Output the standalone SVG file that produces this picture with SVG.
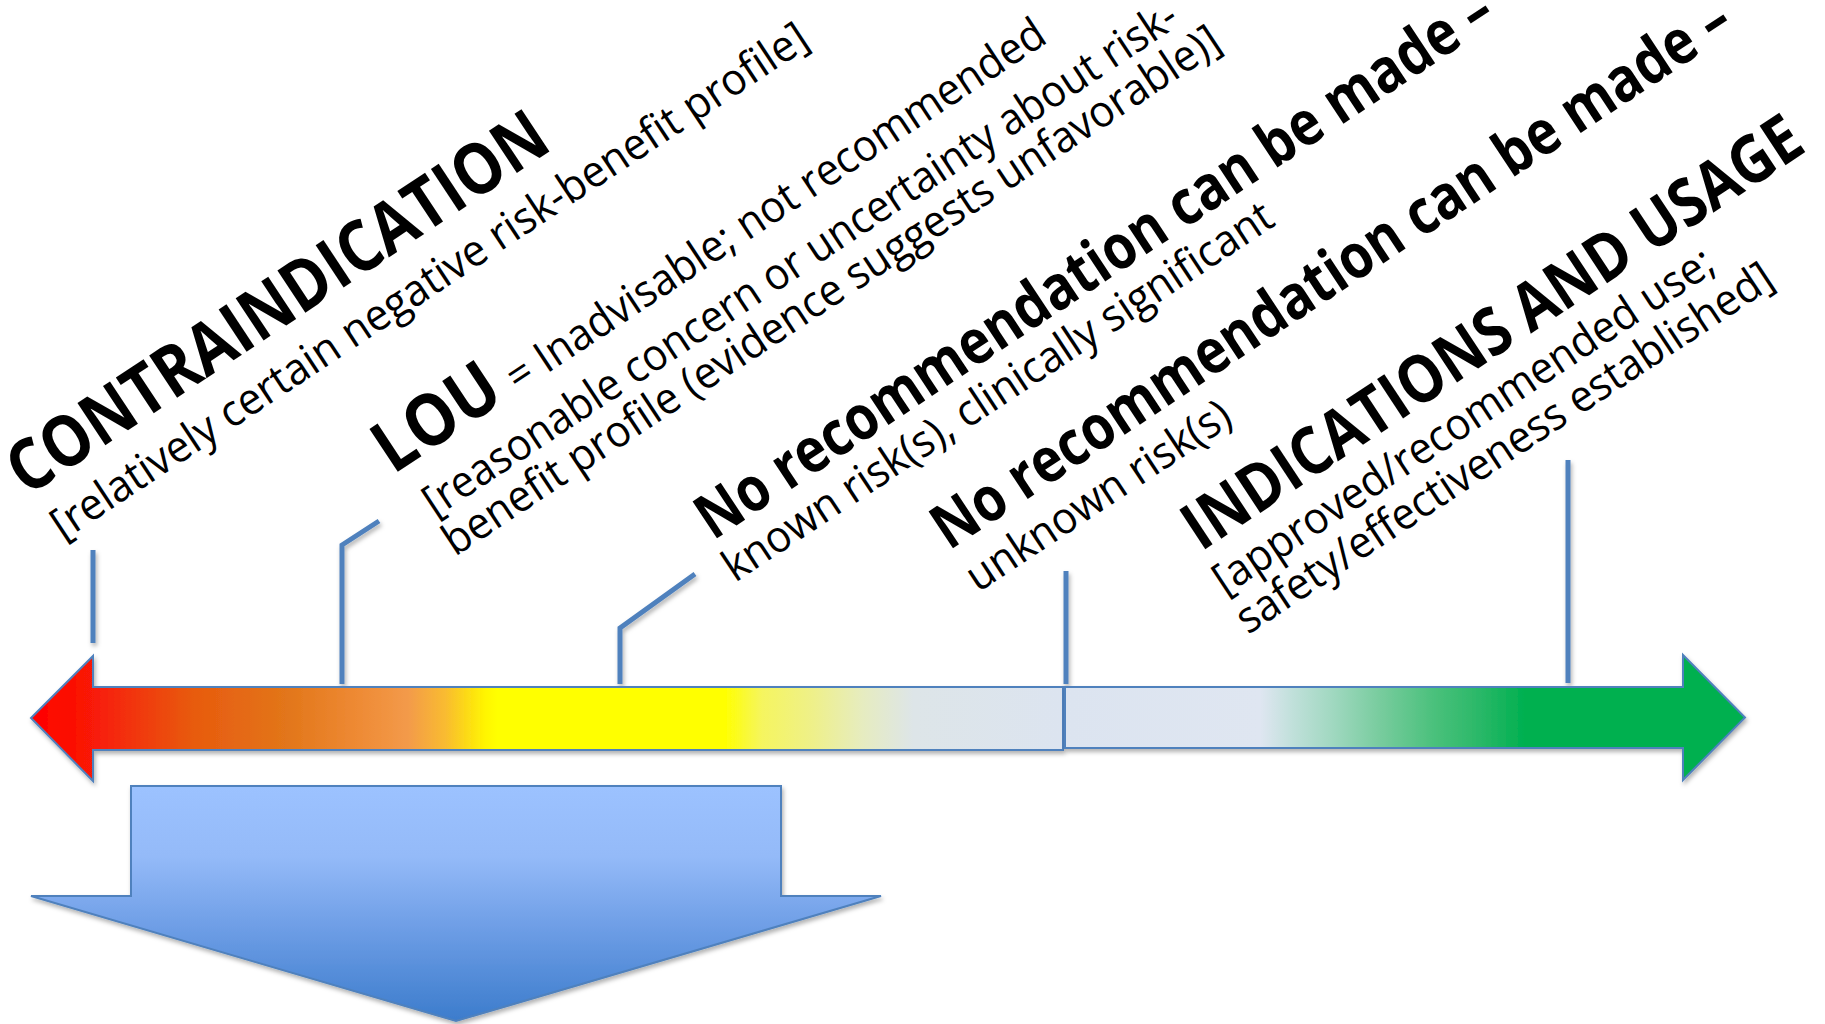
<svg xmlns="http://www.w3.org/2000/svg" width="1825" height="1024" viewBox="0 0 1825 1024">
  <defs>
    <style>
      .t { font-family: "Open Sans", "Noto Sans", "Liberation Sans", sans-serif; fill: #000; }
      .r { font-size: 44px; font-weight: 400; }
      .b { font-weight: 700; }
      .conn { fill: none; stroke: #4F81BD; stroke-width: 5; stroke-linejoin: miter; filter: url(#shU); }
      .shape { stroke: #4F81BD; stroke-width: 2; filter: url(#shU); }
    </style>
    <filter id="shU" filterUnits="userSpaceOnUse" x="0" y="0" width="1825" height="1024">
      <feDropShadow dx="1.5" dy="3" stdDeviation="2" flood-color="#000" flood-opacity="0.3"/>
    </filter>
    <linearGradient id="gLeft" gradientUnits="userSpaceOnUse" x1="31" y1="0" x2="1063" y2="0">
      <stop offset="0" stop-color="#FF0000"/>
      <stop offset="0.05" stop-color="#FA1406"/>
      <stop offset="0.155" stop-color="#E85A0E"/>
      <stop offset="0.248" stop-color="#E2761A"/>
      <stop offset="0.316" stop-color="#EE8A34"/>
      <stop offset="0.365" stop-color="#F39A4A"/>
      <stop offset="0.402" stop-color="#F9BC30"/>
      <stop offset="0.44" stop-color="#FFF500"/>
      <stop offset="0.452" stop-color="#FFFF00"/>
      <stop offset="0.672" stop-color="#FFFF00"/>
      <stop offset="0.709" stop-color="#F5F560"/>
      <stop offset="0.758" stop-color="#EEF08A"/>
      <stop offset="0.806" stop-color="#E6ECC0"/>
      <stop offset="0.855" stop-color="#DDE5E8"/>
      <stop offset="1" stop-color="#DCE4F0"/>
    </linearGradient>
    <linearGradient id="gRight" gradientUnits="userSpaceOnUse" x1="1065" y1="0" x2="1745" y2="0">
      <stop offset="0" stop-color="#DCE4F0"/>
      <stop offset="0.287" stop-color="#DFE6F1"/>
      <stop offset="0.335" stop-color="#C0E0DA"/>
      <stop offset="0.394" stop-color="#A0D8C0"/>
      <stop offset="0.463" stop-color="#78CC9E"/>
      <stop offset="0.547" stop-color="#48C07A"/>
      <stop offset="0.61" stop-color="#2AB868"/>
      <stop offset="0.676" stop-color="#00B050"/>
      <stop offset="1" stop-color="#00B050"/>
    </linearGradient>
    <linearGradient id="gDown" gradientUnits="userSpaceOnUse" x1="0" y1="786" x2="0" y2="1021">
      <stop offset="0" stop-color="#9CC2FF"/>
      <stop offset="0.3" stop-color="#94BAF8"/>
      <stop offset="0.6" stop-color="#6E9EE6"/>
      <stop offset="1" stop-color="#3C7CCC"/>
    </linearGradient>
  </defs>

  <rect width="1825" height="1024" fill="#FFFFFF"/>

  <g id="connectors">
    <polyline class="conn" points="93,550 93,643"/>
    <polyline class="conn" points="379,521 342,545 342,684"/>
    <polyline class="conn" points="695,574 620,628 620,684"/>
    <polyline class="conn" points="1066,571 1066,684"/>
    <polyline class="conn" points="1568,460 1568,683"/>
  </g>

  <g id="arrow-left">
    <path class="shape" fill="url(#gLeft)" d="M31,718 L93,656 L93,687 L1063,687 L1063,750 L93,750 L93,781 Z"/>
  </g>
  <g id="arrow-right">
    <path class="shape" fill="url(#gRight)" d="M1065,687 L1683,687 L1683,655 L1745,717.5 L1683,780 L1683,748 L1065,748 Z"/>
  </g>
  <g id="arrow-down">
    <path class="shape" fill="url(#gDown)" stroke-width="1.5" d="M131,786 L781,786 L781,896 L881,896 L456,1021 L31,896 L131,896 Z"/>
  </g>

  <g id="label-contraindication">
    <text class="t b" font-size="71" transform="translate(27,497) rotate(-33.5)" textLength="632" lengthAdjust="spacingAndGlyphs">CONTRAINDICATION</text>
    <text class="t r" transform="translate(63,541) rotate(-33.5)" textLength="898" lengthAdjust="spacingAndGlyphs">[relatively certain negative risk-benefit profile]</text>
  </g>

  <g id="label-lou">
    <text class="t b" font-size="72" transform="translate(393,475) rotate(-33.5)" textLength="136" lengthAdjust="spacingAndGlyphs">LOU</text>
    <text class="t r" transform="translate(518,393) rotate(-33.5)" textLength="637" lengthAdjust="spacingAndGlyphs">= Inadvisable; not recommended</text>
    <text class="t r" transform="translate(435,518) rotate(-33.5)" textLength="895" lengthAdjust="spacingAndGlyphs">[reasonable concern or uncertainty about risk-</text>
    <text class="t r" transform="translate(455,557) rotate(-33.5)" textLength="922" lengthAdjust="spacingAndGlyphs">benefit profile (evidence suggests unfavorable)]</text>
  </g>

  <g id="label-no-rec-known">
    <text class="t b" font-size="62" transform="translate(713,541) rotate(-33.5)" textLength="942" lengthAdjust="spacingAndGlyphs">No recommendation can be made –</text>
    <text class="t r" transform="translate(735,583) rotate(-33.5)" textLength="650" lengthAdjust="spacingAndGlyphs">known risk(s), clinically significant</text>
  </g>

  <g id="label-no-rec-unknown">
    <text class="t b" font-size="62" transform="translate(949,551) rotate(-33.5)" textLength="944" lengthAdjust="spacingAndGlyphs">No recommendation can be made –</text>
    <text class="t r" transform="translate(978,593) rotate(-33.5)" textLength="308" lengthAdjust="spacingAndGlyphs">unknown risk(s)</text>
  </g>

  <g id="label-indications">
    <text class="t b" font-size="66" transform="translate(1201,552) rotate(-33.5)" textLength="728" lengthAdjust="spacingAndGlyphs">INDICATIONS AND USAGE</text>
    <text class="t r" transform="translate(1225,596) rotate(-33.5)" textLength="591" lengthAdjust="spacingAndGlyphs">[approved/recommended use;</text>
    <text class="t r" transform="translate(1248,635) rotate(-33.5)" textLength="634" lengthAdjust="spacingAndGlyphs">safety/effectiveness established]</text>
  </g>
</svg>
